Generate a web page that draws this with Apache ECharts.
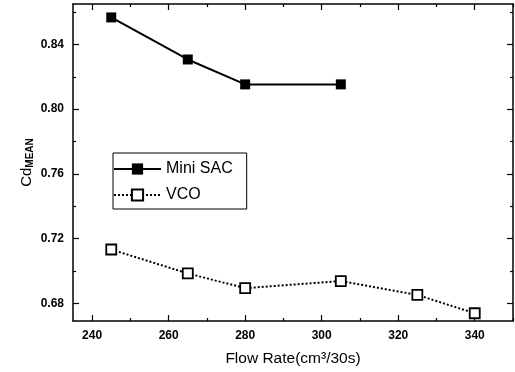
<!DOCTYPE html>
<html>
<head>
<meta charset="utf-8">
<script src="https://cdn.jsdelivr.net/npm/echarts@6/dist/echarts.min.js"></script>
<style>
  html, body { margin: 0; padding: 0; background: #fff; }
  #main { width: 515px; height: 372px; }
</style>
</head>
<body>
<div id="main"></div>
<script>
// values
var miniSacFlow = [245, 265, 280, 305];
var miniSacCd = [0.8567, 0.8307, 0.8153, 0.8153];
var vcoFlow = [245, 265, 280, 305, 325, 340];
var vcoCd = [0.7132, 0.6984, 0.6893, 0.6937, 0.6851, 0.6738];

var xMajor = [240, 260, 280, 300, 320, 340];
var xMinor = [250, 270, 290, 310, 330, 350];
var yMajor = [0.68, 0.72, 0.76, 0.80, 0.84];
var yMinor = [0.70, 0.74, 0.78, 0.82, 0.86];

function pairs(xs, ys) {
  return xs.map(function (x, i) { return [x, ys[i]]; });
}

var font = 'Liberation Sans, Arial, sans-serif';
var xMin = 235, xMax = 350, yMin = 0.669, yMax = 0.865;

// one axis: line, inward ticks at given values, optional labels
function axis(type, pos, ticks, len, showLine, extra) {
  var a = {
    type: 'value',
    position: pos,
    min: type === 'x' ? xMin : yMin,
    max: type === 'x' ? xMax : yMax,
    axisLine: {show: showLine, onZero: false, lineStyle: {color: '#000', width: 1.5}},
    axisTick: {show: true, inside: true, length: len, customValues: ticks,
      lineStyle: {color: '#000', width: 1.2}},
    axisLabel: {show: false},
    splitLine: {show: false}
  };
  for (var k in extra) a[k] = extra[k];
  return a;
}

var labelStyle = {color: '#000', fontFamily: font, fontSize: 12, fontWeight: 'bold', margin: 9};

var myChart = echarts.init(document.getElementById('main'));

var option = {
  animation: false,
  backgroundColor: '#fff',
  grid: {left: 73, right: 2, top: 4, bottom: 51, outerBoundsMode: 'none'},
  legend: {
    left: 113, top: 153,
    orient: 'vertical',
    itemGap: 10,
    itemWidth: 47,
    itemHeight: 14,
    padding: [8, 14, 6, 0],
    borderColor: '#000',
    borderWidth: 1,
    textStyle: {fontFamily: font, fontSize: 16, color: '#000'},
    data: ['Mini SAC', 'VCO']
  },
  xAxis: [
    axis('x', 'bottom', xMajor, 6, true, {
      axisLabel: Object.assign({customValues: xMajor}, labelStyle),
      name: 'Flow Rate(cm\u00b3/30s)',
      nameLocation: 'middle',
      nameGap: 30,
      nameTextStyle: {color: '#000', fontFamily: font, fontSize: 15.5}
    }),
    axis('x', 'bottom', xMinor, 3, false),
    axis('x', 'top', xMajor, 6, true),
    axis('x', 'top', xMinor, 3, false)
  ],
  yAxis: [
    axis('y', 'left', yMajor, 6, true, {
      axisLabel: Object.assign({
        customValues: yMajor,
        formatter: function (v) { return v.toFixed(2); }
      }, labelStyle),
      name: '{m|Cd}{s|MEAN}',
      nameLocation: 'middle',
      nameRotate: 90,
      nameGap: 38,
      nameMoveOverlap: false,
      nameTextStyle: {
        rich: {
          m: {fontFamily: font, fontSize: 15, color: '#000', lineHeight: 16, verticalAlign: 'top'},
          s: {fontFamily: font, fontSize: 10, fontWeight: 'bold', color: '#000', lineHeight: 12,
            verticalAlign: 'bottom', padding: [13, 0, 0, 0]}
        }
      }
    }),
    axis('y', 'left', yMinor, 3, false),
    axis('y', 'right', yMajor, 6, true),
    axis('y', 'right', yMinor, 3, false)
  ],
  series: [
    {
      name: 'Mini SAC',
      type: 'line',
      data: pairs(miniSacFlow, miniSacCd),
      symbol: 'rect',
      symbolSize: 10,
      itemStyle: {color: '#000'},
      lineStyle: {color: '#000', width: 2, type: 'solid'}
    },
    {
      name: 'VCO',
      type: 'line',
      data: pairs(vcoFlow, vcoCd),
      symbol: 'rect',
      symbolSize: 10,
      itemStyle: {color: '#fff', borderColor: '#000', borderWidth: 1.8},
      lineStyle: {color: '#000', width: 2, type: [2, 2]}
    }
  ]
};
myChart.setOption(option);
</script>
</body>
</html>
